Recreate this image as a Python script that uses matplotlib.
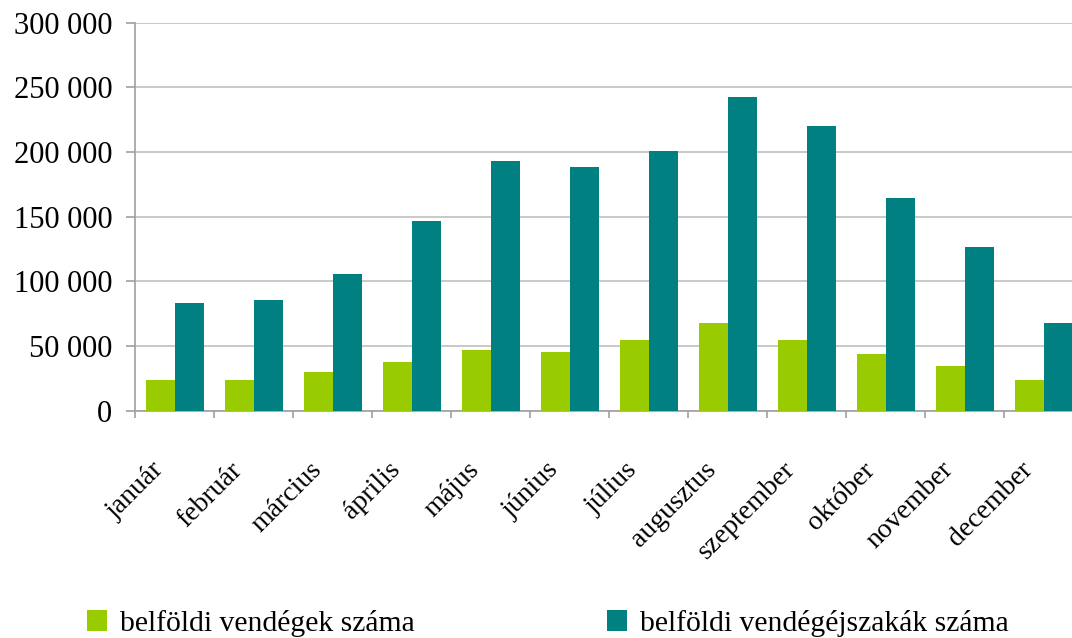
import matplotlib
matplotlib.use("Agg")
import matplotlib.pyplot as plt
import matplotlib.transforms as mtransforms
import numpy as np
from matplotlib.ticker import FuncFormatter, FixedLocator
from matplotlib.patches import Patch

months = ["január", "február", "március", "április", "május", "június",
          "július", "augusztus", "szeptember", "október", "november", "december"]
guests = [23700, 23700, 29900, 37600, 46900, 45400, 54600, 67800, 54600, 43800, 34500, 23700]
nights = [83200, 85600, 105700, 146600, 193000, 188400, 200700, 242500, 220000, 164400, 126500, 67800]
series_names = ["belföldi vendégek száma", "belföldi vendégéjszakák száma"]
colors = ["#99CC00", "#008080"]
yticks = [0, 50000, 100000, 150000, 200000, 250000, 300000]

plt.rcParams['font.family'] = ['Liberation Serif', 'DejaVu Serif']

fig = plt.figure(figsize=(10.72, 6.38), dpi=100)
ax = fig.add_axes([0.1262, 0.3563, 0.8844, 0.6081])

x = np.arange(len(months))
w = 0.367
ax.bar(x - w/2, guests, width=w, color=colors[0], zorder=3)
ax.bar(x + w/2, nights, width=w, color=colors[1], zorder=3)

ax.set_xlim(-0.5, len(months) - 0.5)
ax.set_ylim(0, 300000)
ax.set_yticks(yticks)
ax.yaxis.set_major_formatter(FuncFormatter(lambda v, p: f"{int(v):,}".replace(",", " ")))
ax.grid(axis="y", color="#c0c0c0", linewidth=1.2, zorder=0)
ax.set_axisbelow(True)

ax.set_xticks(x)
ax.set_xticklabels(months, rotation=45, ha="right", va="top", rotation_mode="anchor")
ax.xaxis.set_minor_locator(FixedLocator(np.arange(-0.5, len(months), 1.0)))
ax.tick_params(axis="x", which="major", length=0, labelsize=20, pad=12)
ax.tick_params(axis="x", which="minor", length=5, color="#a0a0a0", width=1.2)
ax.tick_params(axis="y", length=6.5, color="#a0a0a0", width=1.2, labelsize=22, pad=10)

offset = mtransforms.ScaledTranslation(-24/100, -30/100, fig.dpi_scale_trans)
for lbl in ax.get_xticklabels():
    lbl.set_transform(lbl.get_transform() + offset)

for s in ["top", "right"]:
    ax.spines[s].set_visible(False)
for s in ["left", "bottom"]:
    ax.spines[s].set_color("#a0a0a0")
    ax.spines[s].set_linewidth(1.2)

ycen = (638 - 623.5) / 638
for name, col, xpos in zip(series_names, colors, [87 / 1072, 607 / 1072]):
    leg = fig.legend(handles=[Patch(facecolor=col, edgecolor="none")], labels=[name],
                     loc="center left", bbox_to_anchor=(xpos, ycen), frameon=False,
                     fontsize=21.3, handlelength=0.68, handleheight=0.68, handletextpad=0.42,
                     borderpad=0, borderaxespad=0)

fig.savefig("out.png", dpi=100)
